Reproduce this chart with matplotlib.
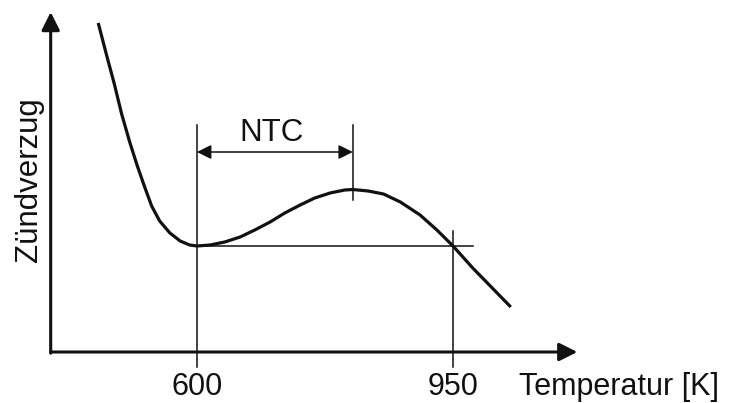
import matplotlib
matplotlib.use("Agg")
import matplotlib.pyplot as plt

# Kurve: Temperatur [K] und Zündverzug (willkürliche Einheit)
temperatur = [465, 476, 487, 497, 508, 518, 528, 538, 549, 563, 577, 590,
              600, 618, 638, 659, 679, 700, 720, 741, 761, 782, 802, 813, 834,
              855, 878, 905, 928, 950, 977, 1005, 1029]
zuendverzug = [3.29, 2.98, 2.68, 2.38, 2.10, 1.87, 1.66, 1.46, 1.31, 1.19, 1.11,
               1.07, 1.06, 1.07, 1.10, 1.15, 1.22, 1.30, 1.39, 1.47, 1.54,
               1.59, 1.62, 1.625, 1.61, 1.58, 1.50, 1.37, 1.22, 1.06, 0.84,
               0.63, 0.45]

t_ursprung = 400
t_ende = 1120
y_ende = 3.40
t_min = 600      # Beginn NTC
t_max = 813      # Maximum der Kurve
t_schnitt = 950  # gleicher Zündverzug wie bei 600 K
tick_werte = [600, 950]
tick_texte = ["600", "950"]

plt.rcParams['font.family'] = ['Liberation Sans', 'DejaVu Sans']
fig = plt.figure(figsize=(7.30, 4.03), dpi=100)
ax = fig.add_axes([0, 0, 1, 1])
ax.set_xlim(330.7, 1328.7)
ax.set_ylim(-0.51, 3.52)
ax.axis('off')

farbe = '#111111'
gr = 22

# Achsen mit Pfeilen
ax.annotate('', xy=(t_ende, 0), xytext=(t_ursprung, 0),
            arrowprops=dict(arrowstyle='-|>,head_length=11,head_width=5.5',
                            mutation_scale=1, lw=2.2, color=farbe,
                            shrinkA=0, shrinkB=0))
ax.annotate('', xy=(t_ursprung, y_ende), xytext=(t_ursprung, -0.012),
            arrowprops=dict(arrowstyle='-|>,head_length=11,head_width=5.5',
                            mutation_scale=1, lw=2.2, color=farbe,
                            shrinkA=0, shrinkB=0))

# Hilfslinien
y_min = zuendverzug[temperatur.index(t_min)]
ax.plot([t_min, t_min], [-0.15, 2.27], color=farbe, lw=1.1)
ax.plot([t_max, t_max], [1.52, 2.27], color=farbe, lw=1.1)
ax.plot([t_schnitt, t_schnitt], [-0.15, 1.21], color=farbe, lw=1.1)
ax.plot([t_min, 977], [y_min, y_min], color=farbe, lw=1.1)

# NTC-Bereich
ax.annotate('', xy=(t_max, 2.0), xytext=(t_min, 2.0),
            arrowprops=dict(arrowstyle='<|-|>,head_length=8.6,head_width=4.3',
                            mutation_scale=1, lw=1.1, color=farbe,
                            shrinkA=0, shrinkB=0))
ax.text((t_min + t_max) / 2 - 4, 2.19, 'NTC', fontsize=22.5, ha='center',
        va='center', color=farbe)

# Kurve
ax.plot(temperatur, zuendverzug, color=farbe, lw=2.3, solid_capstyle='butt',
        solid_joinstyle='round')

# Beschriftung
for t, s in zip(tick_werte, tick_texte):
    ax.text(t, -0.43, s, fontsize=gr, ha='center', va='baseline', color=farbe)
ax.text(1040, -0.435, 'Temperatur [K]', fontsize=gr, ha='left',
        va='baseline', color=farbe)
ax.text(29, 403 - 180, 'Zündverzug', fontsize=22.5, rotation=90, ha='center',
        va='center', color=farbe, transform=None)

fig.savefig('out.png', dpi=100)
